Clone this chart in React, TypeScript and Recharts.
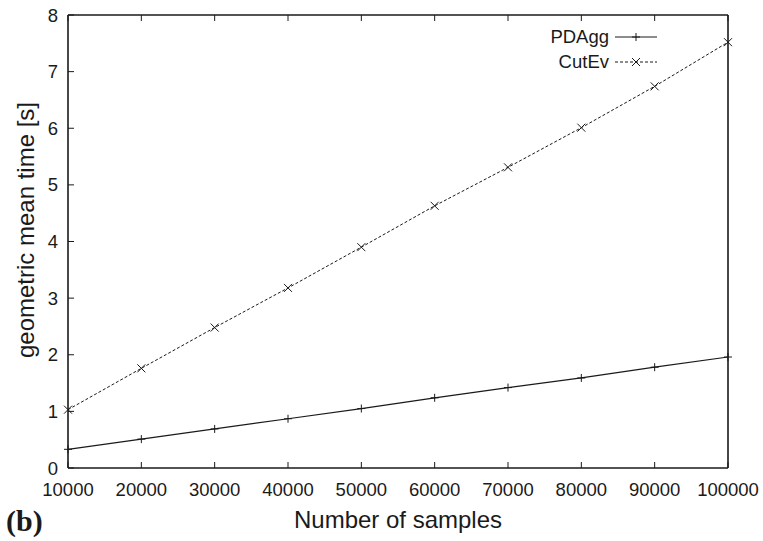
import React from "react";
import { Line, LineChart, XAxis, YAxis } from "recharts";

const samples = [10000, 20000, 30000, 40000, 50000, 60000, 70000, 80000, 90000, 100000];
const pdAgg = [0.33, 0.51, 0.69, 0.87, 1.05, 1.24, 1.42, 1.59, 1.78, 1.96];
const cutEv = [1.03, 1.76, 2.48, 3.18, 3.9, 4.63, 5.31, 6.01, 6.74, 7.52];
const xTicks = [10000, 20000, 30000, 40000, 50000, 60000, 70000, 80000, 90000, 100000];
const yTicks = [0, 1, 2, 3, 4, 5, 6, 7, 8];

const data = samples.map((n, i) => ({ n, pdAgg: pdAgg[i], cutEv: cutEv[i] }));

const INK = "#1a1a1a";
const FONT = "'Liberation Sans', Arial, sans-serif";

const BottomTick = (props: any) => {
  const { x, y, payload } = props;
  return (
    <g>
      <line x1={x} x2={x} y1={y} y2={y - 6} stroke={INK} strokeWidth={1} />
      <text x={x} y={y + 27.5} textAnchor="middle" fontSize={18.5} fill={INK} fontFamily={FONT}>
        {payload.value}
      </text>
    </g>
  );
};

const TopTick = (props: any) => {
  const { x, y } = props;
  return <line x1={x} x2={x} y1={y} y2={y + 6} stroke={INK} strokeWidth={1} />;
};

const LeftTick = (props: any) => {
  const { x, y, payload } = props;
  return (
    <g>
      <line x1={x} x2={x + 6} y1={y} y2={y} stroke={INK} strokeWidth={1} />
      <text x={x - 10} y={y + 6.5} textAnchor="end" fontSize={18.5} fill={INK} fontFamily={FONT}>
        {payload.value}
      </text>
    </g>
  );
};

const RightTick = (props: any) => {
  const { x, y } = props;
  return <line x1={x} x2={x - 6} y1={y} y2={y} stroke={INK} strokeWidth={1} />;
};

const PlusDot = (props: any) => {
  const { cx, cy } = props;
  if (cx == null || cy == null) return null;
  return (
    <g key={`p-${cx}`}>
      <line x1={cx - 4} x2={cx + 4} y1={cy} y2={cy} stroke={INK} strokeWidth={1} />
      <line x1={cx} x2={cx} y1={cy - 4} y2={cy + 4} stroke={INK} strokeWidth={1} />
    </g>
  );
};

const CrossDot = (props: any) => {
  const { cx, cy } = props;
  if (cx == null || cy == null) return null;
  return (
    <g key={`c-${cx}`}>
      <line x1={cx - 4} x2={cx + 4} y1={cy - 4} y2={cy + 4} stroke={INK} strokeWidth={1} />
      <line x1={cx - 4} x2={cx + 4} y1={cy + 4} y2={cy - 4} stroke={INK} strokeWidth={1} />
    </g>
  );
};

const LegendBox = () => {
  const rows = [
    { name: "PDAgg", dash: undefined, Dot: PlusDot },
    { name: "CutEv", dash: "3 2", Dot: CrossDot },
  ];
  return (
    <div
      style={{
        position: "absolute",
        right: 106,
        top: 24,
        fontFamily: FONT,
        fontSize: 18.5,
        color: INK,
      }}
    >
      {rows.map((r) => (
        <div key={r.name} style={{ display: "flex", alignItems: "center", height: 25, justifyContent: "flex-end" }}>
          <span style={{ marginRight: 6 }}>{r.name}</span>
          <svg width={42} height={12}>
            <line x1={0} x2={42} y1={6} y2={6} stroke={INK} strokeWidth={1} strokeDasharray={r.dash} />
            <r.Dot cx={21} cy={6} />
          </svg>
        </div>
      ))}
    </div>
  );
};

export default function App() {
  return (
    <div style={{ position: "absolute", left: 0, top: 0, width: 763, height: 541, background: "#fff" }}>
      <LineChart
        width={763}
        height={541}
        data={data}
        margin={{ top: 14, right: 34, bottom: 72, left: 67 }}
      >
        <XAxis
          xAxisId="bottom"
          dataKey="n"
          type="number"
          domain={[10000, 100000]}
          ticks={xTicks}
          interval={0}
          height={1}
          tickSize={0}
          tickMargin={0}
          tickLine={false}
          axisLine={{ stroke: INK, strokeWidth: 1.6 }}
          tick={BottomTick}
        />
        <XAxis
          xAxisId="top"
          orientation="top"
          dataKey="n"
          type="number"
          domain={[10000, 100000]}
          ticks={xTicks}
          interval={0}
          height={1}
          tickSize={0}
          tickMargin={0}
          tickLine={false}
          axisLine={{ stroke: INK, strokeWidth: 1.6 }}
          tick={TopTick}
        />
        <YAxis
          yAxisId="left"
          type="number"
          domain={[0, 8]}
          ticks={yTicks}
          interval={0}
          width={1}
          tickSize={0}
          tickMargin={0}
          tickLine={false}
          axisLine={{ stroke: INK, strokeWidth: 1.6 }}
          tick={LeftTick}
        />
        <YAxis
          yAxisId="right"
          orientation="right"
          type="number"
          domain={[0, 8]}
          ticks={yTicks}
          interval={0}
          width={1}
          tickSize={0}
          tickMargin={0}
          tickLine={false}
          axisLine={{ stroke: INK, strokeWidth: 1.6 }}
          tick={RightTick}
        />
        <Line
          xAxisId="bottom"
          yAxisId="left"
          type="linear"
          dataKey="pdAgg"
          name="PDAgg"
          stroke={INK}
          strokeWidth={1.2}
          dot={PlusDot}
          activeDot={false}
          isAnimationActive={false}
        />
        <Line
          xAxisId="bottom"
          yAxisId="left"
          type="linear"
          dataKey="cutEv"
          name="CutEv"
          stroke={INK}
          strokeWidth={1}
          strokeDasharray="3 2"
          dot={CrossDot}
          activeDot={false}
          isAnimationActive={false}
        />
      </LineChart>
      <LegendBox />
      <div
        style={{
          position: "absolute",
          left: 398,
          top: 520,
          transform: "translate(-50%, -50%)",
          fontFamily: FONT,
          fontSize: 24,
          color: INK,
          whiteSpace: "nowrap",
        }}
      >
        Number of samples
      </div>
      <div
        style={{
          position: "absolute",
          left: 26,
          top: 230,
          transform: "translate(-50%, -50%) rotate(-90deg)",
          fontFamily: FONT,
          fontSize: 24,
          color: INK,
          whiteSpace: "nowrap",
        }}
      >
        geometric mean time [s]
      </div>
      <div
        style={{
          position: "absolute",
          left: 6,
          top: 521,
          transform: "translateY(-50%)",
          fontFamily: "'Liberation Serif', 'Times New Roman', serif",
          fontWeight: "bold",
          fontSize: 30,
          color: INK,
          whiteSpace: "nowrap",
        }}
      >
        (b)
      </div>
    </div>
  );
}
